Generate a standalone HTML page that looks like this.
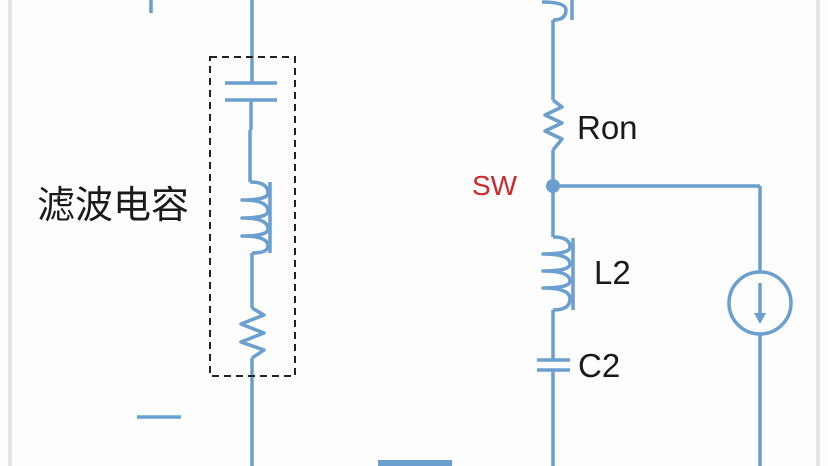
<!DOCTYPE html>
<html><head><meta charset="utf-8"><style>
html,body{margin:0;padding:0;background:#fff;}
svg{display:block}
</style></head><body>
<svg width="828" height="466" viewBox="0 0 828 466" xmlns="http://www.w3.org/2000/svg">
<rect width="828" height="466" fill="#fdfdfd"/>
<rect x="8" y="0" width="4" height="466" fill="#e4e4e4"/>
<rect x="816" y="0" width="4" height="466" fill="#e4e4e4"/>
<g stroke="#6a9fd0" stroke-width="3.5" fill="none" stroke-linecap="butt" stroke-linejoin="round">
<!-- left branch -->
<line x1="151" y1="0" x2="151" y2="13"/>
<line x1="137" y1="417" x2="181" y2="417"/>
<line x1="252" y1="0" x2="252" y2="83"/>
<line x1="225" y1="83" x2="277" y2="83"/>
<line x1="225" y1="100" x2="277" y2="100"/>
<line x1="251" y1="100" x2="251" y2="130"/>
<polyline points="250,130 250,182"/>
<path d="M250,182 Q268,182 268,193 Q268,200 242,200 Q268,200 268,211 Q268,218 242,218 Q268,218 268,229 Q268,236 242,236 Q268,236 268,246 Q268,253 252,253"/>
<line x1="270" y1="182" x2="270" y2="253"/>
<line x1="252" y1="253" x2="252" y2="308"/>
<polyline points="252,308 264,315 241,324 264,333 241,342 264,350 252,358"/>
<line x1="252" y1="358" x2="252" y2="466"/>
<!-- right branch -->
<path d="M542,2 Q566,2 566,10 Q566,20 553,20"/>
<line x1="572" y1="0" x2="572" y2="20"/>
<line x1="553" y1="20" x2="553" y2="100"/>
<polyline points="553,100 562,107 545,115 562,123 545,131 562,139 553,150"/>
<line x1="553" y1="150" x2="553" y2="237"/>
<line x1="553" y1="186" x2="760" y2="186"/>
<line x1="760" y1="186" x2="760" y2="271"/>
<circle cx="760" cy="303" r="31"/>
<line x1="760" y1="335" x2="760" y2="466"/>
<line x1="760" y1="283" x2="760" y2="318"/>
<path d="M553,237 Q570,237 570,247 Q570,254 543,254 Q570,254 570,264 Q570,271 543,271 Q570,271 570,281 Q570,288 543,288 Q570,288 570,299 Q570,310 553,310"/>
<line x1="573" y1="238" x2="573" y2="310"/>
<line x1="553" y1="310" x2="553" y2="360"/>
<line x1="537" y1="360" x2="570" y2="360"/>
<line x1="537" y1="370" x2="570" y2="370"/>
<line x1="553" y1="370" x2="553" y2="466"/>
</g>
<polygon points="754,313 766,313 760,324" fill="#6a9fd0"/>
<circle cx="553" cy="186" r="7" fill="#6a9fd0"/>
<rect x="378" y="460" width="74" height="6" fill="#6a9fd0"/>
<rect x="210" y="57" width="85" height="319" fill="none" stroke="#222" stroke-width="2" stroke-dasharray="7,5"/>
<g font-family="'Liberation Sans','Noto Sans CJK SC',sans-serif" fill="#1a1a1a">
<text x="37" y="218" font-size="38">滤波电容</text>
<text x="577" y="139" font-size="33">Ron</text>
<text x="472" y="195" font-size="28" fill="#d0282c">SW</text>
<text x="594" y="284" font-size="33">L2</text>
<text x="578" y="377" font-size="33">C2</text>
</g>
</svg>
</body></html>
